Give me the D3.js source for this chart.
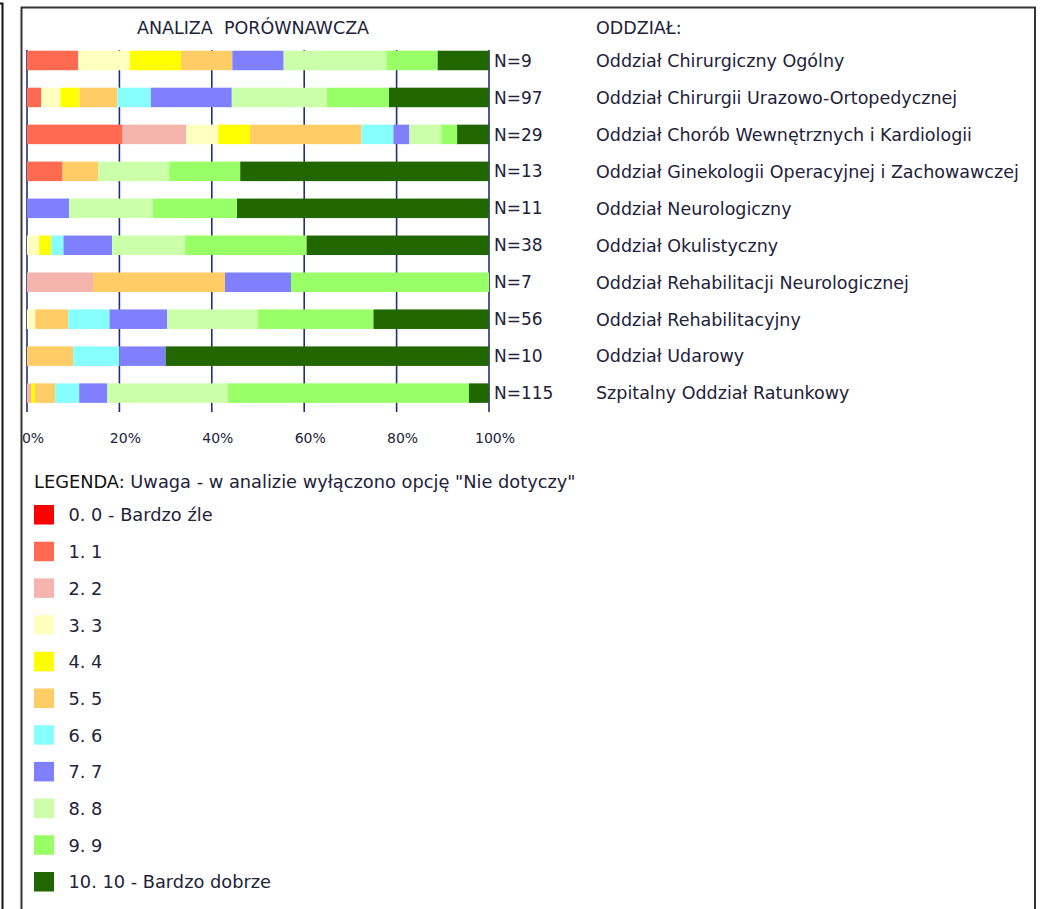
<!DOCTYPE html>
<html><head><meta charset="utf-8">
<script src="https://cdn.jsdelivr.net/npm/d3@7"></script>
<style>
html,body{margin:0;padding:0;background:#fff;}
svg text{font-family:"DejaVu Sans",Verdana,sans-serif;fill:#22223a;white-space:pre;}
</style></head>
<body>
<svg id="c" width="1040" height="909"></svg>
<script>
const categories = [
  "Oddział Chirurgiczny Ogólny",
  "Oddział Chirurgii Urazowo-Ortopedycznej",
  "Oddział Chorób Wewnętrznych i Kardiologii",
  "Oddział Ginekologii Operacyjnej i Zachowawczej",
  "Oddział Neurologiczny",
  "Oddział Okulistyczny",
  "Oddział Rehabilitacji Neurologicznej",
  "Oddział Rehabilitacyjny",
  "Oddział Udarowy",
  "Szpitalny Oddział Ratunkowy"
];
const nValues = [9, 97, 29, 13, 11, 38, 7, 56, 10, 115];
const levels = ["0. 0 - Bardzo źle","1. 1","2. 2","3. 3","4. 4","5. 5","6. 6","7. 7","8. 8","9. 9","10. 10 - Bardzo dobrze"];
const levelColors = ["#ff0000","#ff6a50","#f5b5ae","#ffffc0","#ffff00","#ffcc66","#88ffff","#8080ff","#ccffaa","#99ff66","#226600"];
// counts per department for scores 0..10
const counts = [
  [0,1,0,1,1,1,0,1,2,1,1],
  [0,3,0,4,4,8,7,17,20,13,21],
  [0,6,4,2,2,7,2,1,2,1,2],
  [0,1,0,0,0,1,0,0,2,2,7],
  [0,0,0,0,0,0,0,1,2,2,6],
  [0,0,0,1,1,0,1,4,6,10,15],
  [0,0,1,0,0,2,0,1,0,3,0],
  [0,0,0,1,0,4,5,7,11,14,14],
  [0,0,0,0,0,1,1,1,0,0,7],
  [0,0,1,0,1,5,6,7,30,60,5]
];
const tickValues = [0, 0.2, 0.4, 0.6, 0.8, 1];
const chartTitle = "ANALIZA  PORÓWNAWCZA";
const catTitle = "ODDZIAŁ:";
const legendTitleA = "LEGENDA:";
const legendTitleB = " Uwaga - w analizie wyłączono opcję \"Nie dotyczy\"";

const svg = d3.select("#c");

// frames
svg.append("path").attr("d","M0,3.5H2.5V909").attr("fill","none").attr("stroke","#111").attr("stroke-width",2);
svg.append("rect").attr("x",21.5).attr("y",7.5).attr("width",1013.5).attr("height",920)
  .attr("fill","#fff").attr("stroke","#333").attr("stroke-width",2);

const x = d3.scaleLinear().domain([0,1]).range([27,489]);
const y = d3.scaleBand().domain(categories).range([42, 411.6]).paddingInner(0.472).paddingOuter(0.236);

// gridlines
svg.append("g").selectAll("line").data(tickValues).join("line")
  .attr("x1",d=>x(d)).attr("x2",d=>x(d)).attr("y1",50).attr("y2",412)
  .attr("stroke","#1f2f78").attr("stroke-width",1.6);

// stacked bars (percent)
const rows = categories.map((c,i)=>{
  const o = {cat:c};
  levels.forEach((l,k)=>{ o[k] = counts[i][k] / nValues[i]; });
  return o;
});
const stack = d3.stack().keys(d3.range(levels.length));
const series = stack(rows);
svg.append("g").selectAll("g").data(series).join("g")
  .attr("fill",(d,k)=>levelColors[k])
  .selectAll("rect").data(d=>d).join("rect")
  .attr("x",d=>x(d[0])).attr("width",d=>Math.max(0,x(d[1])-x(d[0])))
  .attr("y",d=>y(d.data.cat)).attr("height",y.bandwidth());

// axis labels
svg.append("g").selectAll("text").data(tickValues).join("text")
  .attr("x",d=>x(d)+6).attr("y",443).attr("text-anchor","middle")
  .attr("font-size",14).text(d=>d3.format(".0%")(d));

// N labels and category labels
svg.append("g").selectAll("text").data(categories).join("text")
  .attr("x",494).attr("y",d=>y(d)+y.bandwidth()/2).attr("dy","0.36em")
  .attr("font-size",17).text((d,i)=>"N="+nValues[i]);
svg.append("g").selectAll("text").data(categories).join("text")
  .attr("x",596).attr("y",d=>y(d)+y.bandwidth()/2).attr("dy","0.36em")
  .attr("font-size",17.5).text(d=>d);

// titles
svg.append("text").attr("x",253).attr("y",28).attr("dy","0.36em").attr("text-anchor","middle")
  .attr("font-size",17.5).text(chartTitle);
svg.append("text").attr("x",596).attr("y",28).attr("dy","0.36em")
  .attr("font-size",17.5).text(catTitle);

// legend
const lt = svg.append("text").attr("x",34).attr("y",482).attr("dy","0.36em").attr("font-size",17.8);
lt.append("tspan").style("fill","#111").text(legendTitleA);
lt.append("tspan").text(legendTitleB);
const lg = svg.append("g").selectAll("g").data(levels).join("g")
  .attr("transform",(d,k)=>`translate(34,${515 + k*36.7})`);
lg.append("rect").attr("x",0).attr("y",-10).attr("width",20).attr("height",19.5)
  .attr("fill",(d,k)=>levelColors[k]);
lg.append("text").attr("x",34.5).attr("y",0).attr("dy","0.36em").attr("font-size",17.8).text(d=>d);
</script>
</body></html>
